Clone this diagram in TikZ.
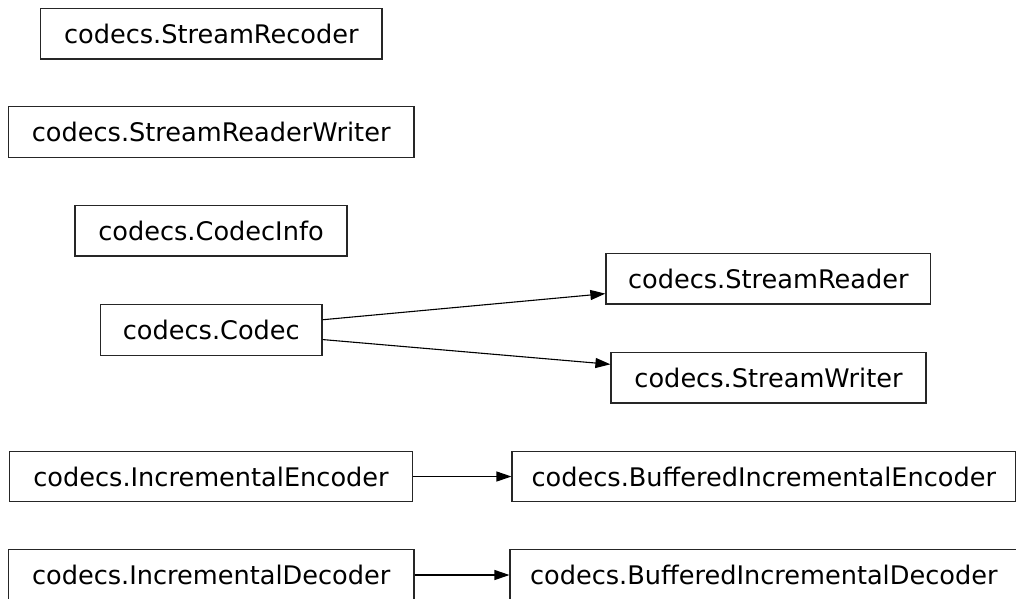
\documentclass[tikz,border=0pt]{standalone}
\usepackage{fontspec}
\setmainfont{DejaVu Sans}
\usetikzlibrary{arrows.meta}
\begin{document}
\begin{tikzpicture}[x=1pt,y=-1pt,
  cls/.style={draw=black!85, line width=1.2pt, rectangle, inner sep=0pt,
    font=\fontsize{25.6}{30}\selectfont, minimum height=50.5pt},
  inh/.style={draw=black, line width=1.1pt, -{Triangle[length=15pt,width=10pt]}}]
\clip (0,0) rectangle (1016,598);
\fill[white] (0,0) rectangle (1016,598);
\node[cls, minimum width=341.3pt] (rec) at (211.3,33.8) {codecs.StreamRecoder};
\node[cls, minimum width=405.7pt] (rw) at (211.2,132) {codecs.StreamReaderWriter};
\node[cls, minimum width=272pt] (info) at (211,230.8) {codecs.CodecInfo};
\node[cls, minimum width=221.3pt] (codec) at (211.3,330) {codecs.Codec};
\node[cls, minimum width=324.7pt] (sr) at (768.3,278.7) {codecs.StreamReader};
\node[cls, minimum width=315pt] (sw) at (768.5,377.8) {codecs.StreamWriter};
\node[cls, minimum width=403.4pt] (ie) at (211,476.5) {codecs.IncrementalEncoder};
\node[cls, minimum width=405.7pt] (id) at (211.2,575) {codecs.IncrementalDecoder};
\node[cls, minimum width=503.5pt] (bie) at (763.8,476.5) {codecs.BufferedIncrementalEncoder};
\node[cls, minimum width=507.5pt] (bid) at (763.8,575) {codecs.BufferedIncrementalDecoder};
\draw[inh] (codec) -- (sr);
\draw[inh] (codec) -- (sw);
\draw[inh] (ie) -- (bie);
\draw[inh] (id) -- (bid);
\end{tikzpicture}
\end{document}
